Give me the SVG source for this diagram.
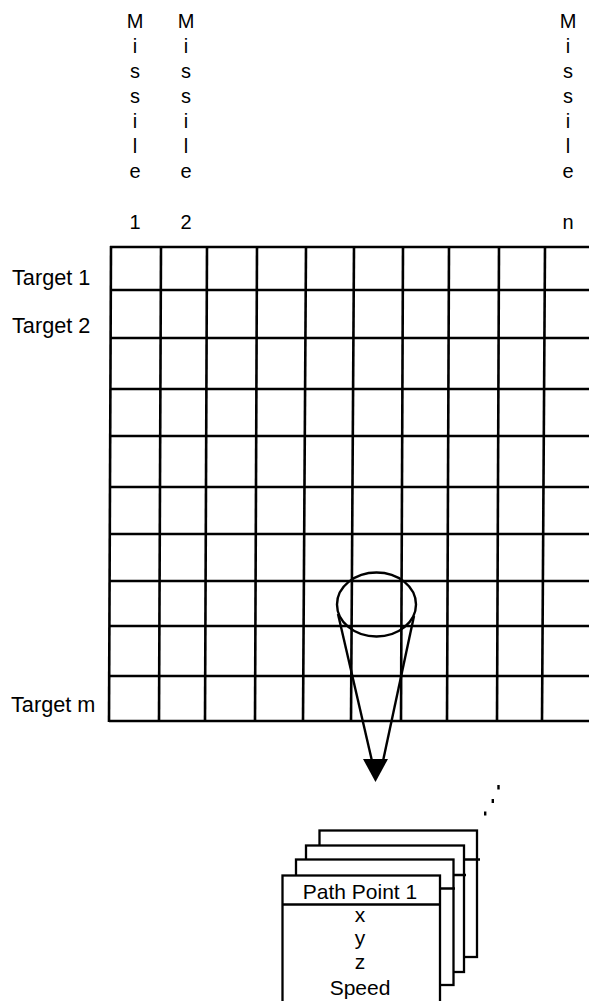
<svg xmlns="http://www.w3.org/2000/svg" width="589" height="1001" viewBox="0 0 589 1001">
  <style>
    text { font-family: "Liberation Sans", Arial, sans-serif; fill: #000; }
    .lbl { font-size: 20px; text-anchor: middle; }
    .tgt { font-size: 21.7px; }
    .card { font-size: 21px; text-anchor: middle; }
    .grid line { stroke: #000; stroke-width: 2.6; }
    .frame { fill: #fff; stroke: #000; stroke-width: 2.3; }
    .div { stroke: #000; stroke-width: 2.3; }
    .conn { stroke: #000; stroke-width: 2.4; fill: none; }
  </style>
  <rect width="589" height="1001" fill="#fff"/>

  <g id="missile-labels">
    <g id="missile-1" class="lbl">
      <text x="135" y="28">M</text><text x="135" y="53">i</text><text x="135" y="78">s</text><text x="135" y="103">s</text><text x="135" y="128">i</text><text x="135" y="153">l</text><text x="135" y="178">e</text><text x="135" y="229">1</text>
    </g>
    <g id="missile-2" class="lbl">
      <text x="186" y="28">M</text><text x="186" y="53">i</text><text x="186" y="78">s</text><text x="186" y="103">s</text><text x="186" y="128">i</text><text x="186" y="153">l</text><text x="186" y="178">e</text><text x="186" y="229">2</text>
    </g>
    <g id="missile-n" class="lbl">
      <text x="568" y="28">M</text><text x="568" y="53">i</text><text x="568" y="78">s</text><text x="568" y="103">s</text><text x="568" y="128">i</text><text x="568" y="153">l</text><text x="568" y="178">e</text><text x="568" y="229">n</text>
    </g>
  </g>

  <g id="target-labels" class="tgt">
    <text x="12" y="285">Target 1</text>
    <text x="12" y="333">Target 2</text>
    <text x="11" y="712">Target m</text>
  </g>

  <g id="grid" class="grid">
    <line x1="110" y1="247" x2="589" y2="247"/>
    <line x1="110" y1="290" x2="589" y2="290"/>
    <line x1="110" y1="338" x2="589" y2="338"/>
    <line x1="110" y1="389" x2="589" y2="389"/>
    <line x1="110" y1="436" x2="589" y2="436"/>
    <line x1="110" y1="487" x2="589" y2="487"/>
    <line x1="110" y1="534" x2="589" y2="534"/>
    <line x1="110" y1="581" x2="589" y2="581"/>
    <line x1="110" y1="626" x2="589" y2="626"/>
    <line x1="110" y1="676" x2="589" y2="676"/>
    <line x1="109" y1="721" x2="589" y2="721"/>
    <line x1="111" y1="246" x2="109" y2="722"/>
    <line x1="161" y1="246" x2="159" y2="722"/>
    <line x1="207" y1="246" x2="205" y2="722"/>
    <line x1="257" y1="246" x2="255" y2="722"/>
    <line x1="306" y1="246" x2="303" y2="722"/>
    <line x1="354" y1="246" x2="351" y2="722"/>
    <line x1="403" y1="246" x2="401" y2="722"/>
    <line x1="449" y1="246" x2="447" y2="722"/>
    <line x1="499" y1="246" x2="497" y2="722"/>
    <line x1="545" y1="246" x2="542" y2="722"/>
  </g>

  <g id="selected-cell">
    <ellipse cx="376.5" cy="604.5" rx="39.5" ry="32" fill="none" stroke="#000" stroke-width="2.4"/>
  </g>

  <g id="connectors">
    <line class="conn" x1="338" y1="614" x2="372" y2="761"/>
    <line class="conn" x1="414" y1="616" x2="383" y2="761"/>
    <polygon points="363,759 388,759 375.5,782" fill="#000"/>
  </g>

  <g id="ellipsis-dots" fill="#000">
    <rect x="497.3" y="785" width="2.4" height="4.5"/>
    <rect x="491.6" y="799" width="2.4" height="4"/>
    <rect x="484" y="811.5" width="2.4" height="4"/>
  </g>

  <g id="path-point-cards">
    <g id="card-4">
      <rect class="frame" x="319.5" y="830.5" width="157.5" height="126.5"/>
      <line class="div" x1="319.5" y1="859.5" x2="480" y2="859.5"/>
    </g>
    <g id="card-3">
      <rect class="frame" x="306" y="845.5" width="158" height="126.5"/>
      <line class="div" x1="306" y1="875" x2="466" y2="875"/>
    </g>
    <g id="card-2">
      <rect class="frame" x="296" y="859.5" width="157.5" height="125.5"/>
      <line class="div" x1="296" y1="888.5" x2="455" y2="888.5"/>
    </g>
    <g id="card-1">
      <rect class="frame" x="282.5" y="875.5" width="157.5" height="140"/>
      <line class="div" x1="282.5" y1="904.5" x2="440" y2="904.5"/>
      <text class="card" x="360" y="899">Path Point 1</text>
      <text class="card" x="360" y="922">x</text>
      <text class="card" x="360" y="945">y</text>
      <text class="card" x="360" y="969">z</text>
      <text class="card" x="360" y="995">Speed</text>
    </g>
  </g>
</svg>
